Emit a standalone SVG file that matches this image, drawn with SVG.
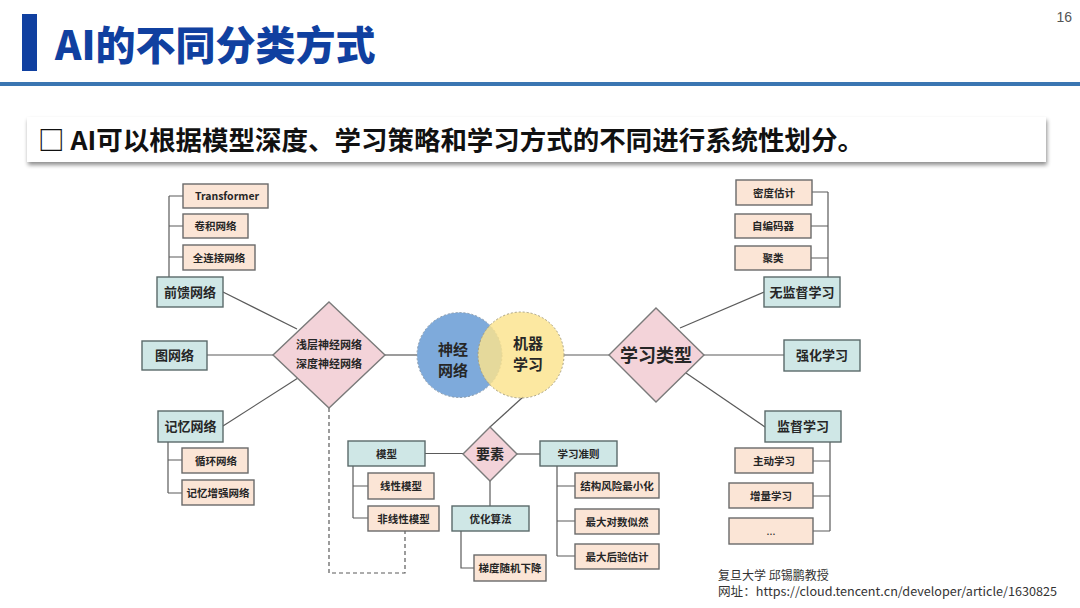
<svg xmlns="http://www.w3.org/2000/svg" width="1080" height="608" viewBox="0 0 1080 608">
<defs>
<style>
.leaf{fill:#fbe5d6;stroke:#6a6a6a;stroke-width:1.4}
.cat{fill:#cfe7e6;stroke:#5a6a6a;stroke-width:1.4}
.dia{fill:#f3d3d9;stroke:#7a7a7a;stroke-width:1.4}
.ln{stroke:#5a5a5a;stroke-width:1.2;fill:none}
.dash{stroke-dasharray:4 3}
text{font-family:"Noto Sans CJK SC","Liberation Sans",sans-serif;fill:#262626;text-anchor:middle}
.s{font-size:10.5px;font-weight:700}
.m{font-size:13px;font-weight:700}
.l{font-size:15px;font-weight:700}
</style>
<filter id="sh" x="-5%" y="-20%" width="110%" height="160%">
<feGaussianBlur in="SourceAlpha" stdDeviation="2"/>
<feOffset dx="1" dy="3"/>
<feComponentTransfer><feFuncA type="linear" slope="0.45"/></feComponentTransfer>
<feMerge><feMergeNode/><feMergeNode in="SourceGraphic"/></feMerge>
</filter>
</defs>
<rect width="1080" height="608" fill="#ffffff"/>
<g id="header">
<rect x="22" y="14" width="15" height="57" fill="#1040a0"/>
<text x="55" y="60" style="font-size:40px;font-weight:900;fill:#1040a0;text-anchor:start">AI的不同分类方式</text>
<text x="1072" y="22" style="font-size:14px;fill:#555;text-anchor:end;font-family:'Liberation Sans',sans-serif">16</text>
<rect x="0" y="82" width="1080" height="4" fill="#3a76b2"/>
</g>
<g id="subtitle">
<rect x="27" y="117" width="1019" height="45" fill="#ffffff" filter="url(#sh)"/>
<text x="38" y="150" textLength="826" lengthAdjust="spacingAndGlyphs" style="font-size:26px;font-weight:700;fill:#111;text-anchor:start">□ AI可以根据模型深度、学习策略和学习方式的不同进行系统性划分。</text>
</g>
<g id="connectors">
<path class="ln" d="M169,196 V277 M169,196 H183 M169,226 H183 M169,257 H183"/>
<path class="ln" d="M223,292 L297,329"/>
<path class="ln" d="M207,355 H273"/>
<path class="ln" d="M223,426 L298,378"/>
<path class="ln" d="M168,442 V493 M168,460 H182 M168,493 H182"/>
<path class="ln dash" d="M329,408 V573 H405 V531"/>
<path class="ln" d="M385,355 H417"/>
<path class="ln" d="M564,355 H609"/>
<path class="ln" d="M523,397 L490,427"/>
<path class="ln" d="M425,453.5 H463"/>
<path class="ln" d="M353,466 V518 M353,486 H368 M353,518 H368"/>
<path class="ln" d="M517,454 H540"/>
<path class="ln" d="M490,481 V506"/>
<path class="ln" d="M461,531 V568 H474"/>
<path class="ln" d="M557,466 V556 M557,486 H575 M557,521 H575 M557,556 H575"/>
<path class="ln" d="M828,192 V277 M812,192 H828 M811,226 H828 M811,258 H828"/>
<path class="ln" d="M764,292 L680,328"/>
<path class="ln" d="M704,355 H784"/>
<path class="ln" d="M686,373 L765,427"/>
<path class="ln" d="M830,442 V531 M813,461 H830 M813,496 H830 M813,531 H830"/>
</g>
<g id="n-transformer"><rect class="leaf" x="183" y="184" width="85" height="24"/><text class="s" x="227" y="200">Transformer</text></g>
<g id="n-conv"><rect class="leaf" x="183" y="214" width="65" height="24"/><text class="s" x="215.5" y="230">卷积网络</text></g>
<g id="n-fc"><rect class="leaf" x="183" y="245" width="72" height="25"/><text class="s" x="219" y="261.5">全连接网络</text></g>
<g id="n-ff"><rect class="cat" x="157" y="277" width="66" height="30"/><text class="m" x="190" y="296.5">前馈网络</text></g>
<g id="n-graph"><rect class="cat" x="142" y="341" width="65" height="29"/><text class="m" x="174.5" y="360">图网络</text></g>
<g id="n-mem"><rect class="cat" x="158" y="411" width="65" height="31"/><text class="m" x="190.5" y="431">记忆网络</text></g>
<g id="n-rnn"><rect class="leaf" x="182" y="448" width="66" height="25"/><text class="s" x="216" y="464.5">循环网络</text></g>
<g id="n-mann"><rect class="leaf" x="182" y="480" width="72" height="25"/><text class="s" x="218" y="496.5">记忆增强网络</text></g>
<g id="n-depth"><polygon class="dia" points="329,302 385,355 329,408 273,355"/><text class="s" style="font-size:11px"><tspan x="329" y="349">浅层神经网络</tspan><tspan x="329" y="368">深度神经网络</tspan></text></g>
<g id="n-venn">
<circle cx="459.5" cy="355" r="42.5" fill="#7eaadb" stroke="#8a9aaa" stroke-width="1" stroke-dasharray="2 2"/>
<circle cx="521" cy="355" r="43" fill="#fbe38c" fill-opacity="0.82" stroke="#a8a080" stroke-width="1" stroke-dasharray="2 2"/>
<text class="l"><tspan x="453" y="355">神经</tspan><tspan x="453" y="375.5">网络</tspan></text>
<text class="l"><tspan x="528" y="349">机器</tspan><tspan x="528" y="369.5">学习</tspan></text>
</g>
<g id="n-type"><polygon class="dia" points="656,308 704,355 656,402 609,355"/><text x="656" y="362" style="font-size:18px;font-weight:700">学习类型</text></g>
<g id="n-density"><rect class="leaf" x="736" y="180" width="76" height="25"/><text class="s" x="774" y="196.5">密度估计</text></g>
<g id="n-ae"><rect class="leaf" x="735" y="214" width="76" height="24"/><text class="s" x="773" y="230">自编码器</text></g>
<g id="n-cluster"><rect class="leaf" x="735" y="246" width="76" height="24"/><text class="s" x="773" y="262">聚类</text></g>
<g id="n-unsup"><rect class="cat" x="764" y="277" width="76" height="30"/><text class="m" x="802" y="296.5">无监督学习</text></g>
<g id="n-rl"><rect class="cat" x="784" y="340" width="76" height="31"/><text class="m" x="822" y="360">强化学习</text></g>
<g id="n-sup"><rect class="cat" x="765" y="411" width="76" height="31"/><text class="m" x="803" y="431">监督学习</text></g>
<g id="n-active"><rect class="leaf" x="735" y="448" width="78" height="25"/><text class="s" x="774" y="464.5">主动学习</text></g>
<g id="n-incr"><rect class="leaf" x="729" y="483" width="84" height="25"/><text class="s" x="771" y="499.5">增量学习</text></g>
<g id="n-more"><rect class="leaf" x="729" y="518" width="84" height="26"/><text class="s" x="771" y="535" style="font-weight:400">...</text></g>
<g id="n-elem"><polygon class="dia" points="490,427 517,454 490,481 463,454"/><text x="490" y="459" style="font-size:14px;font-weight:700">要素</text></g>
<g id="n-model"><rect class="cat" x="348" y="441" width="77" height="25"/><text class="s" x="386.5" y="457.5">模型</text></g>
<g id="n-linear"><rect class="leaf" x="368" y="473" width="66" height="26"/><text class="s" x="401" y="490">线性模型</text></g>
<g id="n-nonlinear"><rect class="leaf" x="368" y="506" width="71" height="25"/><text class="s" x="403.5" y="522.5">非线性模型</text></g>
<g id="n-criterion"><rect class="cat" x="540" y="441" width="77" height="25"/><text class="s" x="578.5" y="457.5">学习准则</text></g>
<g id="n-opt"><rect class="cat" x="452" y="506" width="77" height="25"/><text class="s" x="490.5" y="522.5">优化算法</text></g>
<g id="n-sgd"><rect class="leaf" x="474" y="555" width="72" height="26"/><text class="s" x="510" y="572">梯度随机下降</text></g>
<g id="n-srm"><rect class="leaf" x="575" y="473" width="84" height="25"/><text class="s" x="617" y="489.5">结构风险最小化</text></g>
<g id="n-mle"><rect class="leaf" x="575" y="509" width="84" height="25"/><text class="s" x="617" y="525.5">最大对数似然</text></g>
<g id="n-map"><rect class="leaf" x="575" y="544" width="84" height="25"/><text class="s" x="617" y="560.5">最大后验估计</text></g>
<g id="footer">
<text style="font-size:12px;fill:#333;text-anchor:start"><tspan x="718" y="580">复旦大学  邱锡鹏教授</tspan><tspan x="718" y="596" textLength="339" lengthAdjust="spacingAndGlyphs">网址：https://cloud.tencent.cn/developer/article/1630825</tspan></text>
</g>
</svg>
